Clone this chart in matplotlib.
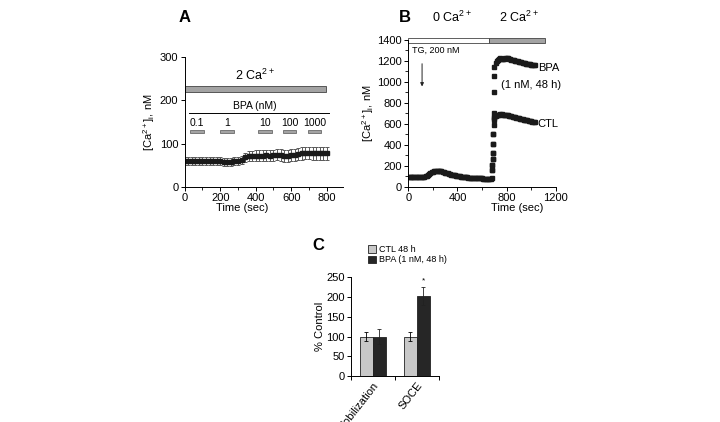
import matplotlib
matplotlib.use('Agg')
import matplotlib.pyplot as plt
from matplotlib.patches import Rectangle
from matplotlib.ticker import MultipleLocator

plt.rcParams['font.family'] = ['Liberation Sans', 'DejaVu Sans']
plt.rcParams['mathtext.default'] = 'regular'
plt.rcParams['font.size'] = 8

# ---- panel A: [Ca2+]i during acute BPA ----
time_a = list(range(0, 801, 20))
ca_a = [60, 60, 59, 60, 60, 60, 59, 60, 59, 59, 59, 58, 58, 58, 59, 60, 62, 68, 71, 71,
        72, 72, 72, 73, 72, 73, 74, 73, 72, 72, 73, 74, 75, 77, 78, 78, 77, 77, 77, 77, 77]
err_a = [9, 9, 9, 9, 9, 9, 9, 9, 9, 9, 9, 9, 9, 9, 9, 9, 10, 11, 12, 12,
         12, 12, 12, 13, 13, 13, 13, 14, 14, 14, 14, 14, 14, 14, 14, 14, 14, 14, 14, 14, 14]
bpa_doses = ['0.1', '1', '10', '100', '1000']
bpa_start = [30, 200, 415, 553, 695]
bpa_end = [108, 278, 490, 628, 770]

# ---- panel B: TG-induced store depletion then Ca2+ re-addition ----
time_b1 = list(range(0, 681, 10))
ca_b1 = [90] * 13 + [92, 98, 106, 115, 123, 130, 137, 142, 147, 150, 152, 153, 152, 150,
                     147, 143, 139, 135, 131, 127, 123, 119, 116, 113, 110, 107, 104, 102,
                     100, 98, 96, 94, 92, 91, 89, 88, 87, 86, 85, 84, 83, 82, 81, 81, 80,
                     80, 79, 79, 78, 78, 78, 77, 77, 77, 78, 80]
time_b2 = [682, 684, 686, 688, 690, 692, 694, 696, 698, 700] + list(range(710, 1031, 10))
ca_ctl = [160, 210, 260, 320, 410, 500, 590, 635, 655, 665,
          675, 680, 684, 687, 690, 690, 688, 686, 684, 682, 680, 677, 674, 671, 668,
          665, 662, 659, 656, 653, 650, 647, 644, 641, 638, 635, 632, 629, 626, 623,
          620, 617, 615]
ca_bpa = [160, 210, 260, 320, 410, 500, 700, 900, 1060, 1140,
          1185, 1200, 1205, 1215, 1225, 1220, 1215, 1218, 1225, 1228, 1225, 1220,
          1215, 1212, 1208, 1205, 1202, 1200, 1196, 1193, 1190, 1187, 1184, 1181,
          1178, 1175, 1172, 1170, 1168, 1166, 1164, 1162, 1160]

# ---- panel C: summary ----
groups = ['Mobilization', 'SOCE']
ctl_vals = [100, 100]
ctl_err = [12, 12]
bpa_vals = [100, 203]
bpa_err = [20, 22]

fig = plt.figure(figsize=(7.2, 4.22), dpi=100)


def style(ax):
    for s in ['top', 'right']:
        ax.spines[s].set_visible(False)
    for s in ['left', 'bottom']:
        ax.spines[s].set_linewidth(0.7)
    ax.tick_params(which='major', length=3, width=0.7, labelsize=8, pad=1.5)
    ax.tick_params(which='minor', length=2, width=0.6)


# Panel A
axA = fig.add_axes([0.2565, 0.5576, 0.2203, 0.3066])
style(axA)
axA.errorbar(time_a, ca_a, yerr=err_a, fmt='s', color='#1a1a1a', ms=3.2,
             ecolor='#5a5a5a', elinewidth=0.7, capsize=1.4, capthick=0.7)
axA.set_xlim(0, 893)
axA.set_ylim(0, 300)
axA.set_xticks([0, 200, 400, 600, 800])
axA.xaxis.set_minor_locator(MultipleLocator(100))
axA.set_yticks([0, 100, 200, 300])
axA.set_ylabel('[Ca$^{2+}$]$_i$, nM', fontsize=8, labelpad=2)
axA.set_xlabel('Time (sec)', fontsize=8, labelpad=0)
axA.xaxis.set_label_coords(0.36, -0.125)
axA.add_patch(Rectangle((0, 220), 797, 13, facecolor='#a3a3a3', edgecolor='#444444', lw=0.6))
axA.text(395, 257, '2 Ca$^{2+}$', ha='center', va='center', fontsize=9)
axA.text(395, 187, 'BPA (nM)', ha='center', va='center', fontsize=7.5)
axA.plot([25, 810], [172, 172], color='black', lw=0.7)
for d, s, e in zip(bpa_doses, bpa_start, bpa_end):
    axA.add_patch(Rectangle((s, 125), e - s, 7, facecolor='#a3a3a3', edgecolor='#555555', lw=0.5))
    axA.text((s + e) / 2, 147, d, ha='center', va='center', fontsize=7.5)

# Panel B
axB = fig.add_axes([0.5671, 0.5576, 0.2047, 0.3476])
style(axB)
axB.plot(time_b1, ca_b1, 's', color='#1a1a1a', ms=2.6)
axB.plot(time_b2, ca_bpa, 's', color='#1a1a1a', ms=2.6)
axB.plot(time_b2, ca_ctl, 's', color='#1a1a1a', ms=2.6)
axB.set_xlim(0, 1200)
axB.set_ylim(0, 1400)
axB.set_xticks([0, 400, 800, 1200])
axB.xaxis.set_minor_locator(MultipleLocator(200))
axB.set_yticks(range(0, 1401, 200))
axB.yaxis.set_minor_locator(MultipleLocator(100))
axB.set_ylabel('[Ca$^{2+}$]$_i$, nM', fontsize=8, labelpad=1)
axB.set_xlabel('Time (sec)', fontsize=8, labelpad=0)
axB.xaxis.set_label_coords(0.74, -0.11)
axB.add_patch(Rectangle((0, 1370), 657, 50, facecolor='white', edgecolor='#444444',
                        lw=0.6, clip_on=False))
axB.add_patch(Rectangle((657, 1370), 458, 50, facecolor='#a3a3a3', edgecolor='#444444',
                        lw=0.6, clip_on=False))
axB.text(351, 1620, '0 Ca$^{2+}$', ha='center', va='center', fontsize=9)
axB.text(897, 1620, '2 Ca$^{2+}$', ha='center', va='center', fontsize=9)
axB.text(30, 1300, 'TG, 200 nM', ha='left', va='center', fontsize=6.5)
axB.annotate('', xy=(112, 930), xytext=(112, 1200),
             arrowprops=dict(arrowstyle='-|>', color='#222222', lw=0.7, mutation_scale=5))
axB.text(1142, 1130, 'BPA', ha='center', va='center', fontsize=8)
axB.text(1000, 975, '(1 nM, 48 h)', ha='center', va='center', fontsize=8)
axB.text(1050, 598, 'CTL', ha='left', va='center', fontsize=8)

# Panel C
axC = fig.add_axes([0.4871, 0.109, 0.1222, 0.2339])
style(axC)
w = 0.3
xs = [0.5, 1.5]
axC.bar([x - w / 2 for x in xs], ctl_vals, w, yerr=ctl_err, color='#c8c8c8',
        edgecolor='#222222', lw=0.6, error_kw=dict(elinewidth=0.6, capsize=1.5, capthick=0.6),
        label='CTL 48 h')
axC.bar([x + w / 2 for x in xs], bpa_vals, w, yerr=bpa_err, color='#262626',
        edgecolor='#222222', lw=0.6, error_kw=dict(elinewidth=0.6, capsize=1.5, capthick=0.6,
                                                   ecolor='#222222'),
        label='BPA (1 nM, 48 h)')
axC.set_xlim(0, 2)
axC.set_ylim(0, 250)
axC.set_yticks(range(0, 251, 50))
axC.set_xticks([0, 1, 2])
axC.set_xticklabels([])
axC.set_xticks(xs, minor=True)
axC.set_xticklabels(groups, minor=True, rotation=52, ha='right', va='top',
                    rotation_mode='anchor', fontsize=8)
axC.tick_params(axis='x', which='minor', length=0, pad=3)
axC.set_ylabel('% Control', fontsize=8, labelpad=1)
axC.text(1.65, 240, '*', ha='center', va='center', fontsize=6)
axC.legend(loc='lower left', bbox_to_anchor=(0.2, 1.13), frameon=False, fontsize=6.5,
           handlelength=0.9, handleheight=0.9, handletextpad=0.3, labelspacing=0.15,
           borderaxespad=0, borderpad=0)

fig.text(185 / 720, 1 - 17 / 422, 'A', fontsize=12, fontweight='bold', ha='center', va='center')
fig.text(405 / 720, 1 - 17 / 422, 'B', fontsize=12, fontweight='bold', ha='center', va='center')
fig.text(318 / 720, 1 - 245 / 422, 'C', fontsize=12, fontweight='bold', ha='center', va='center')

fig.savefig('out.png', dpi=100)
